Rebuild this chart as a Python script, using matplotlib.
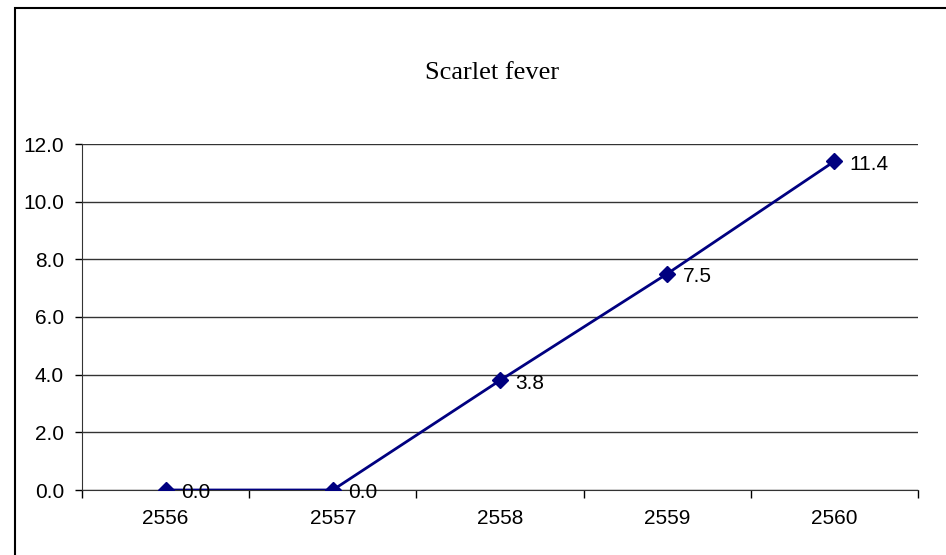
import matplotlib.pyplot as plt
from matplotlib.patches import Rectangle
from matplotlib import font_manager

years = ['2556', '2557', '2558', '2559', '2560']
rates = [0.0, 0.0, 3.8, 7.5, 11.4]
yticks = [0.0, 2.0, 4.0, 6.0, 8.0, 10.0, 12.0]

names = set(f.name for f in font_manager.fontManager.ttflist)
narrow = 'Liberation Sans Narrow' in names
sans = ['Liberation Sans Narrow', 'Liberation Sans'] if narrow else ['Liberation Sans']
fs = 17.5 if narrow else 15

W, H = 946, 555
fig = plt.figure(figsize=(W / 100, H / 100), dpi=100)
ax = fig.add_axes([82 / W, 1 - 490 / H, (918 - 82) / W, (490 - 144) / H])

x = list(range(len(years)))
ax.plot(x, rates, color='#000080', lw=2, marker='D', markersize=8,
        markerfacecolor='#000080', markeredgecolor='#000080', zorder=3)
for xi, v in zip(x, rates):
    ax.annotate('%.1f' % v, (xi, v), xytext=(11, -2), textcoords='offset points',
                ha='left', va='center', fontsize=fs, family=sans,
                color='black')

ax.set_xlim(-0.5, len(years) - 0.5)
ax.set_ylim(0, 12)
ax.set_yticks(yticks)
ax.set_yticklabels(['%.1f' % t for t in yticks], fontsize=fs, family=sans)
ax.set_xticks(x)
ax.set_xticklabels(years, fontsize=fs, family=sans)
ax.set_xticks([i - 0.5 for i in range(len(years) + 1)], minor=True)
ax.tick_params(axis='x', which='major', length=0, pad=14)
ax.tick_params(axis='x', which='minor', length=6, width=1, direction='out')
ax.tick_params(axis='y', length=5, width=1, direction='out', pad=8)

ax.grid(axis='y', color='#333333', lw=1)
ax.set_axisbelow(True)
for s in ['top', 'right']:
    ax.spines[s].set_visible(False)
ax.spines['left'].set_color('#333333')
ax.spines['bottom'].set_color('#333333')

fig.text(492 / W, 1 - 73 / H, 'Scarlet fever', ha='center', va='center',
         fontsize=19, family='Liberation Serif')

# chart border
fig.patches.append(Rectangle((15 / W, -0.2), 1.2, 1.2 - 8 / H,
                             transform=fig.transFigure, fill=False,
                             edgecolor='black', lw=1.5))

fig.savefig('out.png', dpi=100)
